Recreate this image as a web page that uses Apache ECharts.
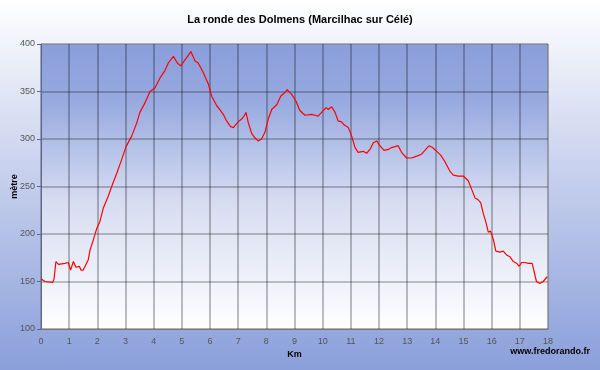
<!DOCTYPE html>
<html><head><meta charset="utf-8">
<script src="https://cdn.jsdelivr.net/npm/echarts@6/dist/echarts.min.js"></script>
<style>html,body{margin:0;padding:0}#c{width:600px;height:370px}</style>
</head><body><div id="c"></div>
<script>
const title = "La ronde des Dolmens (Marcilhac sur Célé)";
const xName = "Km";
const yName = "mètre";
const credit = "www.fredorando.fr";
const km = [0.00,0.02,0.14,0.41,0.46,0.53,0.62,0.85,0.97,1.05,1.15,1.24,1.36,1.42,1.50,1.68,1.74,1.86,1.98,2.09,2.21,2.39,2.51,2.69,2.86,3.02,3.22,3.40,3.51,3.69,3.87,4.05,4.22,4.40,4.52,4.70,4.84,4.96,5.08,5.23,5.32,5.47,5.58,5.76,5.94,6.06,6.24,6.35,6.47,6.59,6.73,6.83,7.00,7.12,7.21,7.28,7.36,7.48,7.60,7.71,7.83,7.95,8.07,8.19,8.37,8.51,8.66,8.74,8.90,9.05,9.19,9.37,9.61,9.73,9.84,9.96,10.12,10.20,10.32,10.44,10.55,10.67,10.76,10.91,11.03,11.15,11.26,11.44,11.56,11.68,11.80,11.92,12.03,12.18,12.33,12.45,12.57,12.68,12.80,12.98,13.16,13.34,13.51,13.63,13.78,13.90,14.05,14.19,14.34,14.52,14.64,14.81,14.99,15.17,15.29,15.41,15.52,15.61,15.70,15.80,15.88,15.96,16.06,16.15,16.29,16.41,16.53,16.65,16.77,16.89,16.98,17.06,17.18,17.30,17.36,17.44,17.49,17.59,17.71,17.83,17.97];
const elev = [153,154,150,149,152,171,168,169,170,162,171,165,166,162,162,173,183,194,206,213,227,240,250,264,278,292,303,317,328,338,350,354,364,372,380,387,380,377,382,388,392,382,380,370,358,345,335,331,326,319,313,312,318,321,324,328,317,306,301,298,300,307,321,331,336,345,349,352,347,340,330,325,326,325,324,328,333,331,334,328,319,318,315,312,303,291,286,287,285,289,296,298,293,288,289,291,292,293,286,280,280,282,284,288,293,291,287,283,276,266,262,261,261,256,247,238,236,233,222,212,202,203,194,182,181,182,178,176,171,169,166,170,170,169,171,169,171,150,148,150,155];
const xTicks = [0,18,1];
const yTicks = [100,400,50];

const chart = echarts.init(document.getElementById('c'), null, {renderer:'canvas'});
const data = km.map((k,i)=>[k, elev[i]]);
chart.setOption({
  backgroundColor: new echarts.graphic.LinearGradient(0,0,0,1,[{offset:0,color:'#ffffff'},{offset:0.45,color:'#c9d2ee'},{offset:1,color:'#8a9fda'}]),
  title: {text: title, left: 'center', top: 9, textStyle:{fontFamily:'Liberation Sans, Arial', fontSize:11, fontWeight:'bold', color:'#000'}},
  grid: {left:41, top:44, width:507, height:285, containLabel:false, outerBoundsMode:'none', show:true, borderColor:'#d0d0d0', borderWidth:1,
    backgroundColor: new echarts.graphic.LinearGradient(0,0,0,1,[{offset:0,color:'#8a9edb'},{offset:0.2,color:'#97a9df'},{offset:0.55,color:'#d6dcf1'},{offset:1,color:'#ffffff'}])},
  xAxis: {type:'value', min:xTicks[0], max:xTicks[1], interval:xTicks[2], name:xName, nameLocation:'middle', nameGap:21, nameMoveOverlap:false,
    nameTextStyle:{fontFamily:'Liberation Sans, Arial', fontSize:9, fontWeight:'bold', color:'#000'},
    axisLine:{show:true, lineStyle:{color:'#777', width:1}}, axisTick:{show:false},
    axisLabel:{fontFamily:'Liberation Sans, Arial', fontSize:9, color:'#555', margin:8},
    splitLine:{show:true, lineStyle:{color:'rgba(0,0,0,0.25)', width:2}}},
  yAxis: {type:'value', min:yTicks[0], max:yTicks[1], interval:yTicks[2], name:yName, nameLocation:'middle', nameGap:22, nameRotate:90, nameMoveOverlap:false,
    nameTextStyle:{fontFamily:'Liberation Sans, Arial', fontSize:9, fontWeight:'bold', color:'#000'},
    axisLine:{show:true, lineStyle:{color:'#556699', width:1}}, axisTick:{show:true, length:4, inside:false, lineStyle:{color:'#556699'}},
    axisLabel:{fontFamily:'Liberation Sans, Arial', fontSize:9, color:'#555', margin:6},
    splitLine:{show:true, lineStyle:{color:'rgba(0,0,0,0.3)', width:1.5}}},
  graphic: [{type:'text', right:10, top:347, style:{text:credit, font:'bold 9px Liberation Sans, Arial', fill:'#000'}}],
  series: [{type:'line', data:data, showSymbol:false, symbol:'none', lineStyle:{color:'#ff0000', width:1.2}, animation:false}]
});
</script></body></html>
